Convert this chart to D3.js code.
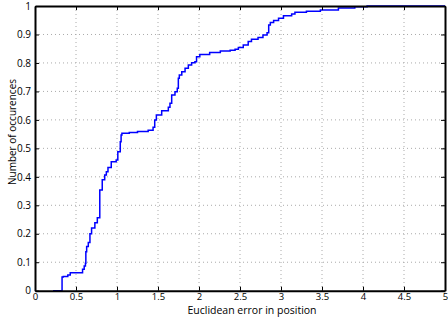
<!DOCTYPE html>
<html><head><meta charset="utf-8">
<script src="https://cdn.jsdelivr.net/npm/d3@7"></script>
<style>body{margin:0;background:#fff}svg{display:block}</style>
</head><body><svg id="c" width="448" height="320"></svg>
<script>
const errors = [0.22,0.33,0.345,0.40,0.43,0.58,0.60,0.615,0.62,0.63,0.65,0.67,0.69,0.73,0.76,0.79,0.82,0.85,0.87,0.89,0.93,0.99,1.01,1.04,1.05,1.06,1.15,1.25,1.38,1.44,1.46,1.48,1.545,1.626,1.646,1.667,1.707,1.735,1.748,1.76,1.79,1.83,1.87,1.91,1.95,1.97,2.01,2.13,2.26,2.38,2.44,2.48,2.54,2.60,2.64,2.72,2.78,2.83,2.85,2.87,2.91,2.97,3.03,3.13,3.17,3.31,3.48,3.70,3.90,4.05,5.0];
const cumulative = [0,0.048,0.05,0.055,0.063,0.075,0.087,0.096,0.137,0.155,0.169,0.2,0.22,0.239,0.256,0.354,0.39,0.406,0.418,0.433,0.453,0.459,0.488,0.523,0.547,0.553,0.556,0.559,0.564,0.574,0.6,0.617,0.632,0.644,0.658,0.687,0.699,0.711,0.746,0.758,0.769,0.781,0.793,0.801,0.804,0.822,0.830,0.837,0.842,0.845,0.848,0.854,0.863,0.875,0.883,0.889,0.898,0.906,0.933,0.942,0.949,0.957,0.966,0.972,0.978,0.982,0.986,0.993,0.997,1,1];
const xTicks = [0,0.5,1,1.5,2,2.5,3,3.5,4,4.5,5];
const yTicks = [0,0.1,0.2,0.3,0.4,0.5,0.6,0.7,0.8,0.9,1];
const xLabel = "Euclidean error in position";
const yLabel = "Number of occurences";

const svg = d3.select("#c");
const L=35,R=445,T=6,B=290.7;
const x = d3.scaleLinear().domain([0,5]).range([L,R]);
const y = d3.scaleLinear().domain([0,1]).range([B,T]);
const font = "'Open Sans', 'DejaVu Sans', sans-serif";

// grid
const g = svg.append("g");
g.selectAll(".gx").data(xTicks.slice(1,-1)).enter().append("line")
 .attr("x1",d=>x(d)).attr("x2",d=>x(d)).attr("y1",T).attr("y2",B)
 .attr("stroke","#aaa").attr("stroke-width",1).attr("stroke-dasharray","1,3");
g.selectAll(".gy").data(yTicks.slice(1,-1)).enter().append("line")
 .attr("y1",d=>y(d)).attr("y2",d=>y(d)).attr("x1",L).attr("x2",R)
 .attr("stroke","#aaa").attr("stroke-width",1).attr("stroke-dasharray","1,3");

// line
const pts = errors.map((e,i)=>[e,cumulative[i]]);
svg.append("path").datum(pts)
 .attr("d", d3.line().x(d=>x(d[0])).y(d=>y(d[1])).curve(d3.curveStepAfter))
 .attr("fill","none").attr("stroke","#0000ff").attr("stroke-width",1.5);

// axes
const ax = svg.append("g").attr("transform",`translate(0,${B})`)
 .call(d3.axisBottom(x).tickValues(xTicks).tickSizeInner(-4).tickSizeOuter(0).tickPadding(3).tickFormat(d3.format("")));
const ay = svg.append("g").attr("transform",`translate(${L},0)`)
 .call(d3.axisLeft(y).tickValues(yTicks).tickSizeInner(-4).tickSizeOuter(0).tickPadding(4).tickFormat(d3.format("")));
const at = svg.append("g").attr("transform",`translate(0,${T})`)
 .call(d3.axisTop(x).tickValues(xTicks).tickSizeInner(-4).tickSizeOuter(0).tickFormat(""));
const ar = svg.append("g").attr("transform",`translate(${R},0)`)
 .call(d3.axisRight(y).tickValues(yTicks).tickSizeInner(-4).tickSizeOuter(0).tickFormat(""));
[ax,ay,at,ar].forEach(a=>{
  a.select(".domain").attr("stroke","#000").attr("stroke-width",2);
  a.selectAll(".tick line").attr("stroke","#000").attr("stroke-width",1);
  a.selectAll("text").attr("font-family",font).attr("font-size",10).attr("fill","#000");
});
ax.selectAll("text").attr("font-size",9.5);

svg.append("text").attr("x",252).attr("y",313.5).attr("text-anchor","middle")
 .attr("font-family",font).attr("font-size",10.5).text(xLabel);
svg.append("text").attr("transform",`translate(16,132) rotate(-90)`).attr("text-anchor","middle")
 .attr("font-family",font).attr("font-size",10).text(yLabel);
</script></body></html>
